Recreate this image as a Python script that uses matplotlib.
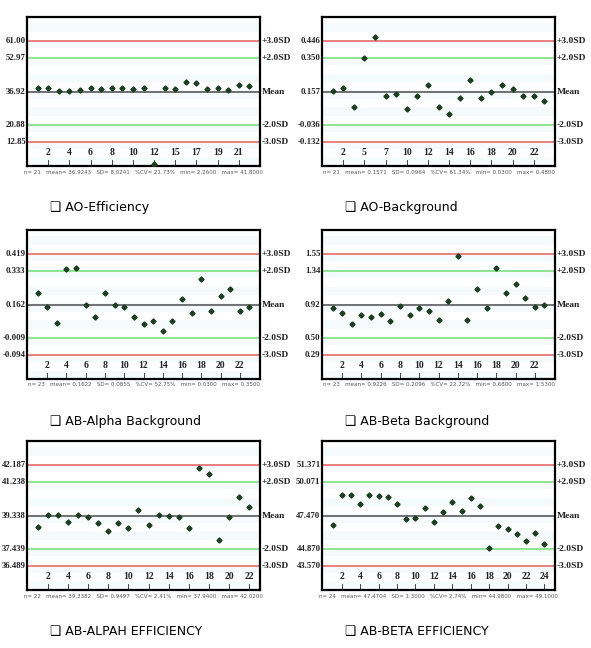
import matplotlib
matplotlib.use("Agg")
import matplotlib.pyplot as plt

W, H = 591, 648

# ---- data ----
titles = ["AO-Efficiency", "AO-Background",
          "AB-Alpha Background", "AB-Beta Background",
          "AB-ALPAH EFFICIENCY", "AB-BETA EFFICIENCY"]

ao_eff = [38.5, 38.8, 37.2, 37.2, 37.7, 38.5, 38.2, 38.5, 38.8, 38.2, 38.8,
          2.26, 38.8, 38.2, 41.8, 41.2, 38.2, 38.8, 37.7, 40.1, 39.5]
ao_bg = [0.161, 0.180, 0.071, 0.352, 0.47, 0.130, 0.143, 0.059, 0.130, 0.193,
         0.071, 0.032, 0.120, 0.224, 0.120, 0.155, 0.193, 0.172, 0.130, 0.130, 0.103]
ab_alpha_bg = [0.221, 0.153, 0.072, 0.343, 0.351, 0.162, 0.101, 0.221, 0.162,
               0.153, 0.101, 0.062, 0.082, 0.031, 0.082, 0.194, 0.119, 0.294,
               0.131, 0.209, 0.241, 0.131, 0.153]
ab_beta_bg = [0.876, 0.818, 0.685, 0.793, 0.768, 0.801, 0.714, 0.905, 0.793,
              0.876, 0.843, 0.735, 0.963, 1.535, 0.735, 1.118, 0.876, 1.379,
              1.072, 1.176, 1.005, 0.897, 0.913]
ab_alpha_eff = [38.71, 39.39, 39.39, 38.97, 39.39, 39.27, 38.94, 38.47, 38.94,
                38.67, 39.67, 38.79, 39.39, 39.35, 39.24, 38.67, 42.02, 41.70,
                37.98, 39.24, 40.38, 39.82]
ab_beta_eff = [46.76, 49.10, 49.10, 48.41, 49.10, 49.03, 48.90, 48.39, 47.20,
               47.33, 48.05, 47.02, 47.77, 48.56, 47.82, 48.82, 48.23, 44.98,
               46.66, 46.45, 46.07, 45.50, 46.14, 45.29]
series = [ao_eff, ao_bg, ab_alpha_bg, ab_beta_bg, ab_alpha_eff, ab_beta_eff]

# control limit labels: +3SD, +2SD, mean, -2SD, -3SD
limit_labels = [["61.00", "52.97", "36.92", "20.88", "12.85"],
                ["0.446", "0.350", "0.157", "-0.036", "-0.132"],
                ["0.419", "0.333", "0.162", "-0.009", "-0.094"],
                ["1.55", "1.34", "0.92", "0.50", "0.29"],
                ["42.187", "41.238", "39.338", "37.439", "36.489"],
                ["51.371", "50.071", "47.470", "44.870", "43.570"]]
sds = [8.0241, 0.0964, 0.0855, 0.2096, 0.9497, 1.3000]
side_labels = ["+3.0SD", "+2.0SD", "Mean", "-2.0SD", "-3.0SD"]

# x tick labels (run numbers shown under every other point)
tick_text = [["2", "4", "6", "8", "10", "12", "15", "17", "19", "21"],
             ["2", "5", "7", "10", "12", "14", "16", "18", "20", "22"],
             [str(i) for i in range(2, 23, 2)],
             [str(i) for i in range(2, 23, 2)],
             [str(i) for i in range(2, 23, 2)],
             [str(i) for i in range(2, 25, 2)]]

stats = ["n= 21   mean= 36.9243   SD= 8.0241   %CV= 21.73%   min= 2.2600   max= 41.8000",
         "n= 21   mean= 0.1571   SD= 0.0964   %CV= 61.34%   min= 0.0300   max= 0.4800",
         "n= 23   mean= 0.1622   SD= 0.0855   %CV= 52.75%   min= 0.0300   max= 0.3500",
         "n= 23   mean= 0.9226   SD= 0.2096   %CV= 22.72%   min= 0.6800   max= 1.5300",
         "n= 22   mean= 39.3382   SD= 0.9497   %CV= 2.41%   min= 37.9400   max= 42.0200",
         "n= 24   mean= 47.4704   SD= 1.3000   %CV= 2.74%   min= 44.9800   max= 49.1000"]

line_colors = ["#e86a6a", "#7ee07e", "#5a5a5a", "#7ee07e", "#e86a6a"]

fig = plt.figure(figsize=(W / 100, H / 100), dpi=100)
fig.patch.set_facecolor("white")

col_x = [27, 322]
row_top = [17, 230, 441]
box_w, box_h = 233, 149
serif = "Liberation Serif"

for k in range(6):
    r, c = divmod(k, 2)
    x0, top = col_x[c], row_top[r]
    ax = fig.add_axes([x0 / W, 1 - (top + box_h) / H, box_w / W, box_h / H])
    vals = series[k]
    n = len(vals)
    levels = [float(s) for s in limit_labels[k]]
    sd = sds[k]
    ymax = levels[0] + 1.45 * sd
    ymin = levels[4] - 1.42 * sd
    ax.set_ylim(ymin, ymax)
    pad = 10.5 * (n - 1) / 211.7
    ax.set_xlim(1 - pad, n + pad)

    # faint stripes in the background
    step = sd * 0.5
    y = ymin
    i = 0
    while y < ymax:
        if i % 2 == 0:
            ax.axhspan(y, y + step, color="#f5fbfc", lw=0, zorder=0)
        y += step
        i += 1

    for lev, col in zip(levels, line_colors):
        ax.axhline(lev, color=col, lw=1.2, zorder=1)

    xs = list(range(1, n + 1))
    inx = [x for x, v in zip(xs, vals) if ymin <= v <= ymax]
    iny = [v for v in vals if ymin <= v <= ymax]
    ax.plot(inx, iny, "D", ms=2.6, color="#1d3d22", mec="#1d3d22", zorder=3)
    tick_y = levels[4] - 1.18 * sd
    out = [x for x, v in zip(xs, vals) if v < ymin or v > ymax]
    if out:
        ax.plot(out, [tick_y] * len(out), "^", ms=2.5, color="#333333", zorder=3)

    # in-box tick labels and small tick marks
    tx = list(range(2, 2 + 2 * len(tick_text[k]), 2))
    for xv, t in zip(tx, tick_text[k]):
        ax.text(xv, levels[4] - 0.62 * sd, t, ha="center", va="center",
                fontsize=7, fontweight="bold", family=serif, color="#222222")
        ax.plot([xv, xv], [tick_y - 0.1 * sd, tick_y + 0.1 * sd],
                color="#444444", lw=0.7)

    for lev, s in zip(levels, limit_labels[k]):
        ax.text(-0.006, lev, s, transform=ax.get_yaxis_transform(),
                ha="right", va="center", fontsize=6.3, fontweight="bold",
                family=serif, color="#222222")
    for lev, s in zip(levels, side_labels):
        ax.text(1.008, lev, s, transform=ax.get_yaxis_transform(),
                ha="left", va="center", fontsize=6.8, fontweight="bold",
                family=serif, color="#222222")

    ax.set_xticks([])
    ax.set_yticks([])
    for sp in ax.spines.values():
        sp.set_linewidth(1.6)
        sp.set_color("black")

    bottom = top + box_h
    fig.text((x0 + box_w / 2) / W, 1 - (bottom + 6) / H, stats[k],
             ha="center", va="center", fontsize=4.0, color="#555555")
    fig.text((x0 + 23) / W, 1 - (bottom + 42) / H, "\u2751 " + titles[k],
             ha="left", va="center", fontsize=9, color="black",
             family=["DejaVu Sans"])

fig.savefig("out.png", dpi=100, facecolor="white")
